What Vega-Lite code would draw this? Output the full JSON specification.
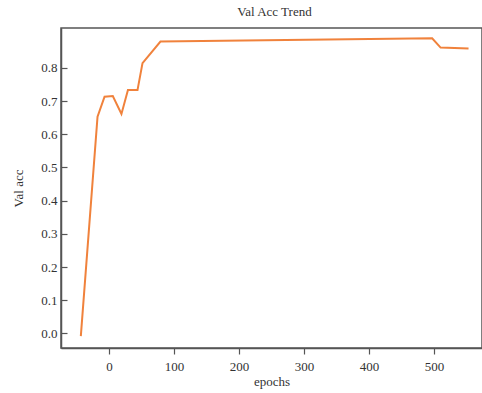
{
  "$schema": "https://vega.github.io/schema/vega-lite/v6.json",
  "autosize": {"type": "none"},
  "padding": {"left": 61, "top": 28, "right": 0, "bottom": 45},
  "width": 421,
  "height": 320,
  "background": "white",
  "title": {"text": "Val Acc Trend", "font": "Liberation Serif", "fontSize": 13, "fontWeight": "normal", "color": "#333333", "offset": 9, "dx": 3},
  "config": {
    "font": "Liberation Serif",
    "view": {"stroke": "#555555", "strokeWidth": 1.5},
    "style": {"guide-label": {"font": "Liberation Serif", "fontSize": 13, "fill": "#333333"}, "guide-title": {"font": "Liberation Serif"}},
    "axis": {"grid": false, "labelFont": "Liberation Serif", "labelFontSize": 13, "labelColor": "#333333", "titleFont": "Liberation Serif", "titleFontSize": 13, "titleFontWeight": "normal", "titleColor": "#333333", "domainColor": "#555555", "tickColor": "#555555", "domainWidth": 1.5, "tickWidth": 1.2, "labelOverlap": false}
  },
  "data": {"values": [
    {"epoch": -43.5, "acc": -0.008},
    {"epoch": -17.8, "acc": 0.653},
    {"epoch": -7, "acc": 0.713},
    {"epoch": 5.7, "acc": 0.715},
    {"epoch": 19, "acc": 0.661},
    {"epoch": 29, "acc": 0.733},
    {"epoch": 43.7, "acc": 0.733},
    {"epoch": 51.4, "acc": 0.814},
    {"epoch": 79, "acc": 0.879},
    {"epoch": 497, "acc": 0.889},
    {"epoch": 510, "acc": 0.861},
    {"epoch": 553, "acc": 0.858}
  ]},
  "mark": {"type": "line", "color": "#f0823c", "strokeWidth": 2},
  "encoding": {
    "x": {"field": "epoch", "type": "quantitative", "scale": {"domain": [-74, 573.7], "nice": false, "zero": false},
          "axis": {"values": [0, 100, 200, 300, 400, 500], "tickSize": 6, "labelPadding": 6, "labelFont": "Liberation Serif", "labelFontSize": 13, "labelOverlap": false, "title": "epochs", "titlePadding": 2,
                   "encode": {"labels": {"update": {"font": {"value": "Liberation Serif"}}}}}},
    "y": {"field": "acc", "type": "quantitative", "scale": {"domain": [-0.044, 0.92], "nice": false, "zero": false},
          "axis": {"values": [0, 0.1, 0.2, 0.3, 0.4, 0.5, 0.6, 0.7, 0.8], "format": ".1f", "tickSize": -6, "labelPadding": 10, "labelFont": "Liberation Serif", "labelFontSize": 13, "labelOverlap": false, "title": "Val acc", "titleX": -43, "titleY": 160, "titleAngle": -90, "titleBaseline": "middle", "titleAlign": "center",
                   "encode": {"labels": {"update": {"font": {"value": "Liberation Serif"}}}}}}
  }
}
